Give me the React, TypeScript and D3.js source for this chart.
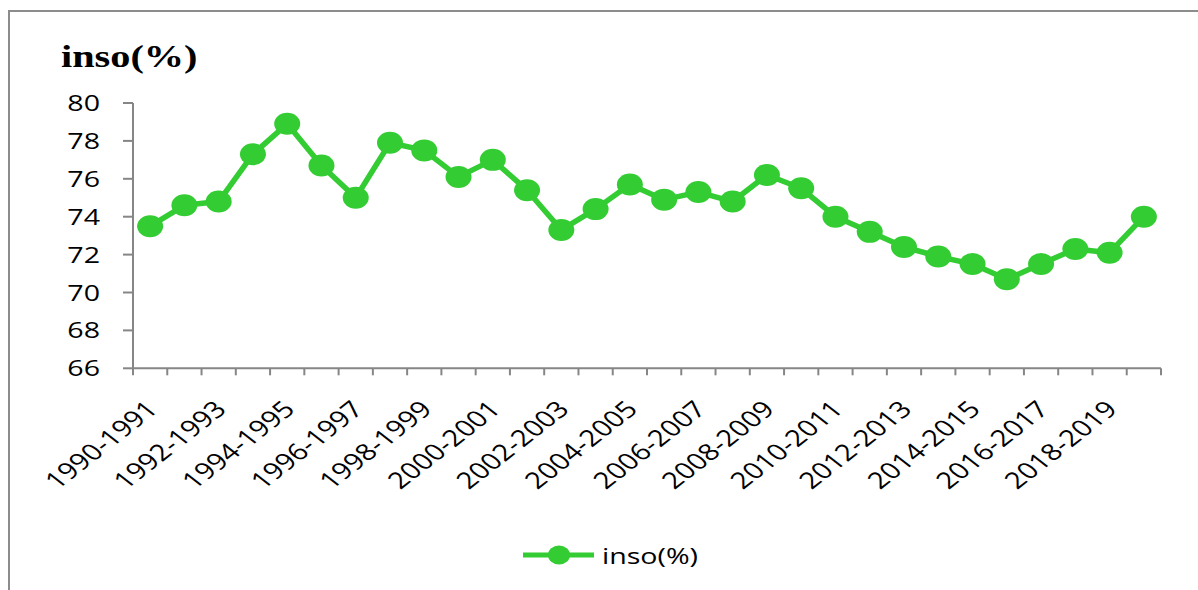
import React from "react";
import * as d3 from "d3";

const categories = [
  "1990-1991", "1991-1992", "1992-1993", "1993-1994", "1994-1995",
  "1995-1996", "1996-1997", "1997-1998", "1998-1999", "1999-2000",
  "2000-2001", "2001-2002", "2002-2003", "2003-2004", "2004-2005",
  "2005-2006", "2006-2007", "2007-2008", "2008-2009", "2009-2010",
  "2010-2011", "2011-2012", "2012-2013", "2013-2014", "2014-2015",
  "2015-2016", "2016-2017", "2017-2018", "2018-2019", "2019-2020",
];
const values = [
  73.5, 74.6, 74.8, 77.3, 78.9, 76.7, 75.0, 77.9, 77.5, 76.1,
  77.0, 75.4, 73.3, 74.4, 75.7, 74.9, 75.3, 74.8, 76.2, 75.5,
  74.0, 73.2, 72.4, 71.9, 71.5, 70.7, 71.5, 72.3, 72.1, 74.0,
];
const yTicks = [66, 68, 70, 72, 74, 76, 78, 80];
const labeledCategories = categories.filter((_, i) => i % 2 === 0);
const seriesName = "inso(%)";
const title = "inso(%)";

const W = 1198;
const H = 590;
const SX = 1.3; // horizontal stretch of the original picture
const GREEN = "#33CC33";
const AXIS = "#868686";
const FONT = "'Open Sans', sans-serif";

export default function App() {
  const x = d3.scaleBand<string>().domain(categories).range([133, 1161]).padding(0);
  const y = d3.scaleLinear().domain([66, 80]).range([368.3, 103]);
  const cx = (c: string) => (x(c) as number) + x.bandwidth() / 2;
  const data = categories.map((c, i) => ({ c, v: values[i] }));
  const line = d3
    .line<{ c: string; v: number }>()
    .x((d) => cx(d.c))
    .y((d) => y(d.v));

  const tickEdges = categories.map((c) => x(c) as number).concat([x.range()[1]]);

  return (
    <svg
      width={W}
      height={H}
      style={{ position: "absolute", left: 0, top: 0, background: "#fff" }}
    >
      <rect x={0} y={0} width={W} height={H} fill="#fff" />
      {/* outer frame */}
      <rect x={9} y={11} width={W + 20} height={H + 20} fill="none" stroke="#8c8c8c" strokeWidth={2} />

      {/* title */}
      <text
        transform={`translate(61, 67) scale(${SX},1)`}
        fontFamily="'Liberation Serif', 'Times New Roman', serif"
        fontWeight="bold"
        fontSize={31}
        fill="#000"
      >
        {title}
      </text>

      {/* y axis */}
      <line x1={133} x2={133} y1={y(80)} y2={y(66)} stroke={AXIS} strokeWidth={2} />
      {yTicks.map((t) => (
        <g key={t}>
          <line x1={123} x2={133} y1={y(t)} y2={y(t)} stroke={AXIS} strokeWidth={2} />
          <text
            transform={`translate(100, ${y(t) + 8}) scale(${SX},1)`}
            textAnchor="end"
            fontFamily={FONT}
            fontSize={22}
            fill="#000"
          >
            {t}
          </text>
        </g>
      ))}

      {/* x axis */}
      <line x1={133} x2={1161} y1={y(66)} y2={y(66)} stroke={AXIS} strokeWidth={2} />
      {tickEdges.map((e, i) => (
        <line key={i} x1={e} x2={e} y1={y(66)} y2={y(66) + 7} stroke={AXIS} strokeWidth={2} />
      ))}
      {labeledCategories.map((c) => (
        <text
          key={c}
          transform={`translate(${cx(c) + 2}, 405) scale(1.28,1) rotate(-45)`}
          textAnchor="end"
          dy="0.35em"
          fontFamily={FONT}
          fontSize={23}
          fill="#000"
        >
          {c}
        </text>
      ))}

      {/* series */}
      <path d={line(data) || ""} fill="none" stroke={GREEN} strokeWidth={5.5} strokeLinejoin="round" />
      {data.map((d) => (
        <ellipse key={d.c} cx={cx(d.c)} cy={y(d.v)} rx={13} ry={11} fill={GREEN} />
      ))}

      {/* legend */}
      <line x1={523} x2={594} y1={555} y2={555} stroke={GREEN} strokeWidth={5} />
      <ellipse cx={559} cy={555} rx={11} ry={9.5} fill={GREEN} />
      <text
        transform={`translate(602, 564) scale(${SX},1)`}
        fontFamily={FONT}
        fontSize={22}
        fill="#000"
      >
        {seriesName}
      </text>
    </svg>
  );
}
